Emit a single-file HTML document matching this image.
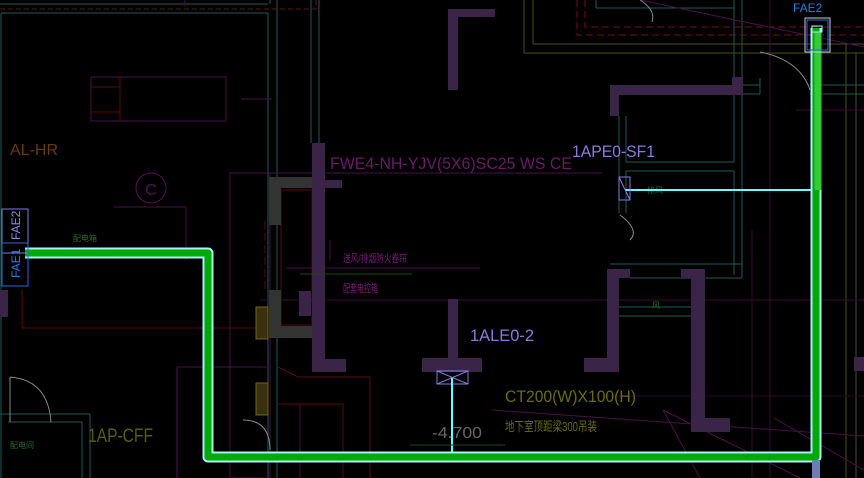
<!DOCTYPE html>
<html><head><meta charset="utf-8"><style>
html,body{margin:0;padding:0;background:#000;width:864px;height:478px;overflow:hidden}
svg{display:block}
text{font-family:"Liberation Sans","Noto Sans CJK SC",sans-serif}
</style></head><body>
<svg width="864" height="478" viewBox="0 0 864 478" xmlns="http://www.w3.org/2000/svg">
<rect width="864" height="478" fill="#000"/>
<!-- teal structure lines -->
<g stroke="#1d5a58" stroke-width="1" fill="none">
<line x1="0" y1="4" x2="268" y2="4"/>
<line x1="1" y1="13" x2="268" y2="13"/>
<line x1="1" y1="13" x2="1" y2="478"/>
<line x1="268" y1="13" x2="268" y2="478"/>
<line x1="277" y1="0" x2="277" y2="478"/>
<line x1="311" y1="0" x2="311" y2="143"/>
<line x1="319" y1="0" x2="319" y2="143"/>
<line x1="270" y1="0" x2="270" y2="4"/>
<line x1="596" y1="0" x2="596" y2="8"/><line x1="596" y1="8" x2="734" y2="8"/><line x1="734" y1="0" x2="734" y2="8"/>
<line x1="734" y1="8" x2="734" y2="162"/>
<line x1="742" y1="0" x2="742" y2="278"/>
<line x1="619" y1="116" x2="619" y2="213"/>
<line x1="626" y1="116" x2="626" y2="162"/><line x1="626" y1="162" x2="734" y2="162"/>
<line x1="626" y1="171" x2="734" y2="171"/><line x1="626" y1="171" x2="626" y2="213"/>
<line x1="734" y1="171" x2="734" y2="275"/>
<line x1="742" y1="85" x2="760" y2="85"/><line x1="742" y1="94" x2="760" y2="94"/>
<line x1="760" y1="78" x2="760" y2="94"/>
<line x1="810" y1="85" x2="864" y2="85"/><line x1="810" y1="94" x2="864" y2="94"/>
<line x1="610" y1="264" x2="742" y2="264"/><line x1="630" y1="278" x2="742" y2="278"/>
<line x1="619" y1="307" x2="691" y2="307"/><line x1="619" y1="316" x2="691" y2="316"/>
<line x1="0" y1="414" x2="90" y2="414"/><line x1="8" y1="422" x2="82" y2="422"/>
<line x1="82" y1="422" x2="82" y2="478"/><line x1="90" y1="414" x2="90" y2="478"/>
</g>
<!-- red dashed -->
<line x1="0" y1="9" x2="316" y2="9" stroke="#5a1a1a" stroke-dasharray="5,3"/>
<line x1="316" y1="0" x2="316" y2="9" stroke="#5a1a1a" stroke-dasharray="5,3"/>
<g stroke="#7a1010" stroke-dasharray="7,4" fill="none">
<polyline points="577,0 577,35 864,35"/><polyline points="585,0 585,27 864,27"/>
</g>
<!-- yellow -->
<g stroke="#4e4e12" fill="none">
<polyline points="533,0 533,44 864,44"/><polyline points="524,0 524,53 864,53"/>
<line x1="846" y1="44" x2="846" y2="478"/><line x1="856" y1="53" x2="856" y2="478"/>
<line x1="270" y1="225" x2="270" y2="478"/><line x1="277" y1="0" x2="277" y2="0"/>
</g>
<!-- magenta lines -->
<g stroke="#4a0f4a" fill="none">
<line x1="640" y1="0" x2="864" y2="47"/>
<rect x="91" y="77" width="135" height="44"/>
<line x1="241" y1="99" x2="272" y2="99"/>
<line x1="230" y1="173" x2="602" y2="173"/>
<polyline points="114,207 186,207 186,260"/>
<rect x="230" y="173" width="40" height="305"/>
<line x1="285" y1="268" x2="480" y2="268"/>
<line x1="260" y1="300" x2="864" y2="300" stroke="#3a0a3a"/>
<line x1="177" y1="367" x2="268" y2="367"/>
<line x1="177" y1="367" x2="177" y2="478"/>
<line x1="300" y1="404" x2="300" y2="478"/>
<line x1="330" y1="240" x2="330" y2="260"/>
<line x1="185" y1="0" x2="185" y2="6"/>
<line x1="492" y1="410" x2="864" y2="436"/>
<line x1="663" y1="410" x2="700" y2="478"/>
<line x1="663" y1="410" x2="800" y2="478"/>
<line x1="774" y1="418" x2="864" y2="470"/>
<line x1="770" y1="0" x2="770" y2="478" stroke="#3a0a3a"/>
<line x1="796" y1="110" x2="864" y2="110" stroke="#3a0a3a"/>
<line x1="602" y1="396" x2="864" y2="396" stroke="#2a082a"/>
<line x1="752" y1="230" x2="752" y2="478" stroke="#3a0a3a"/>
</g>
<g stroke="#5a0a0a" fill="none">
<line x1="120" y1="77" x2="120" y2="121"/><line x1="91" y1="87" x2="120" y2="87"/><line x1="91" y1="112" x2="120" y2="112"/>
<polyline points="22,290 22,328 256,328"/>
<rect x="281" y="190" width="31" height="135"/>
<polyline points="278,367 298,377 370,377 370,478"/>
<polyline points="278,404 343,404 343,478"/>
<line x1="265" y1="221" x2="265" y2="290" stroke-dasharray="8,4"/>
</g>
<circle cx="151" cy="188" r="15" stroke="#5a0f5a" fill="none"/>
<text x="151" y="195" font-size="16" fill="#5a0f5a" text-anchor="middle">C</text>
<!-- gray blocks -->
<g fill="#333">
<rect x="269" y="177" width="43" height="11"/><rect x="269" y="188" width="12" height="37"/>
<rect x="269" y="290" width="12" height="48"/><rect x="269" y="326" width="43" height="12"/>
</g>
<g fill="#3a3010" stroke="#6a6a10"><rect x="256" y="307" width="12" height="32"/><rect x="256" y="383" width="12" height="32"/></g>
<!-- purple walls -->
<g fill="#3a2448">
<rect x="312" y="143" width="13" height="229"/><rect x="312" y="359" width="34" height="13"/>
<rect x="325" y="180" width="17" height="8"/><rect x="299" y="291" width="12" height="25"/>
<rect x="448" y="9" width="10" height="81"/><rect x="448" y="9" width="47" height="8"/>
<rect x="610" y="85" width="133" height="10"/><rect x="610" y="85" width="9" height="31"/><rect x="732" y="77" width="11" height="18"/>
<rect x="448" y="299" width="10" height="61"/><rect x="422" y="358" width="60" height="14"/>
<rect x="607" y="269" width="12" height="103"/><rect x="584" y="358" width="35" height="14"/><rect x="607" y="269" width="23" height="9"/>
<rect x="691" y="269" width="14" height="163"/><rect x="681" y="269" width="24" height="9"/><rect x="691" y="418" width="39" height="14"/>
<rect x="0" y="290" width="8" height="27"/><rect x="854" y="357" width="10" height="14"/>
</g>
<!-- doors -->
<g stroke="#888" fill="none">
<path d="M760 52 Q800 60 810 90"/><path d="M10 377 L10 422 M10 377 Q48 380 51 422"/>
<path d="M640 0 Q656 10 652 22"/>
<path d="M243 420 Q270 420 270 450"/><path d="M620 215 Q640 230 630 240"/>
</g>
<!-- labels -->
<text x="10" y="155" font-size="16" fill="#6a3a08">AL-HR</text>
<text x="330" y="169" font-size="17" fill="#6a1a6a" textLength="242" lengthAdjust="spacingAndGlyphs">FWE4-NH-YJV(5X6)SC25 WS CE</text>
<text x="572" y="157" font-size="17" fill="#8a7adf" textLength="83" lengthAdjust="spacingAndGlyphs">1APE0-SF1</text>
<text x="470" y="341" font-size="17" fill="#8a7adf" textLength="64" lengthAdjust="spacingAndGlyphs">1ALE0-2</text>
<text x="505" y="402" font-size="17" fill="#6a6a12" textLength="131" lengthAdjust="spacingAndGlyphs">CT200(W)X100(H)</text>
<text x="505" y="431" font-size="13" fill="#6a6a12" textLength="92" lengthAdjust="spacingAndGlyphs">地下室顶距梁300吊装</text>
<text x="432" y="438" font-size="16" fill="#666" textLength="50" lengthAdjust="spacingAndGlyphs">-4.700</text>
<text x="88" y="442" font-size="19" fill="#5a5a10" textLength="65" lengthAdjust="spacingAndGlyphs">1AP-CFF</text>
<text x="343" y="262" font-size="11" fill="#7a1a7a" textLength="64" lengthAdjust="spacingAndGlyphs">送风/排烟防火卷帘</text>
<text x="343" y="292" font-size="11" fill="#7a1a7a" textLength="35" lengthAdjust="spacingAndGlyphs">配套电控箱</text>
<text x="73" y="241" font-size="8" fill="#2a6a2a">配电箱</text>
<text x="10" y="448" font-size="8" fill="#2a6a2a">配电间</text>
<text x="647" y="193" font-size="8" fill="#2a6a2a">排风</text>
<text x="652" y="308" font-size="8" fill="#2a6a2a">风</text>
<line x1="487" y1="247" x2="487" y2="247"/>
<line x1="300" y1="274" x2="412" y2="274" stroke="#1a4a1a"/>
<!-- cyan connectors -->
<line x1="625" y1="190" x2="816" y2="190" stroke="#6ff" stroke-width="2"/>
<rect x="619" y="177" width="11" height="23" fill="none" stroke="#8a7adf"/>
<line x1="619" y1="177" x2="630" y2="200" stroke="#8a7adf"/>
<rect x="437" y="371" width="31" height="13" fill="none" stroke="#8a7adf"/>
<line x1="437" y1="371" x2="468" y2="384" stroke="#8a7adf"/><line x1="437" y1="384" x2="468" y2="371" stroke="#8a7adf"/>
<line x1="452" y1="378" x2="452" y2="457" stroke="#6ff" stroke-width="2"/>
<line x1="410" y1="445" x2="505" y2="445" stroke="#1a4a1a"/>
<!-- green pipes -->
<g fill="none" stroke-linejoin="round">
<polyline points="25,253 208,253 208,457 816,457 816,28" stroke="#aef" stroke-width="11"/>
<polyline points="25,253 208,253 208,457 816,457 816,28" stroke="#0a0" stroke-width="7"/>
<line x1="818" y1="32" x2="818" y2="190" stroke="#3c3" stroke-width="7"/>
</g>
<rect x="812" y="460" width="8" height="18" fill="#6a80b0"/>
<rect x="812" y="26" width="10" height="6" fill="none" stroke="#aef"/>
<!-- FAE boxes -->
<rect x="805" y="18" width="25" height="34" fill="none" stroke="#ccc"/>
<rect x="807" y="20" width="21" height="30" fill="none" stroke="#2a6adf"/>
<text x="793" y="12" font-size="12" fill="#2a7adf">FAE2</text>
<rect x="2" y="209" width="26" height="44" fill="none" stroke="#7a7adf"/>
<rect x="2" y="243" width="26" height="43" fill="none" stroke="#2a6adf"/>
<text transform="translate(20,240) rotate(-90)" font-size="12" fill="#8a8adf">FAE2</text>
<text transform="translate(20,278) rotate(-90)" font-size="12" fill="#2a7adf">FAE1</text>
</svg>
</body></html>
